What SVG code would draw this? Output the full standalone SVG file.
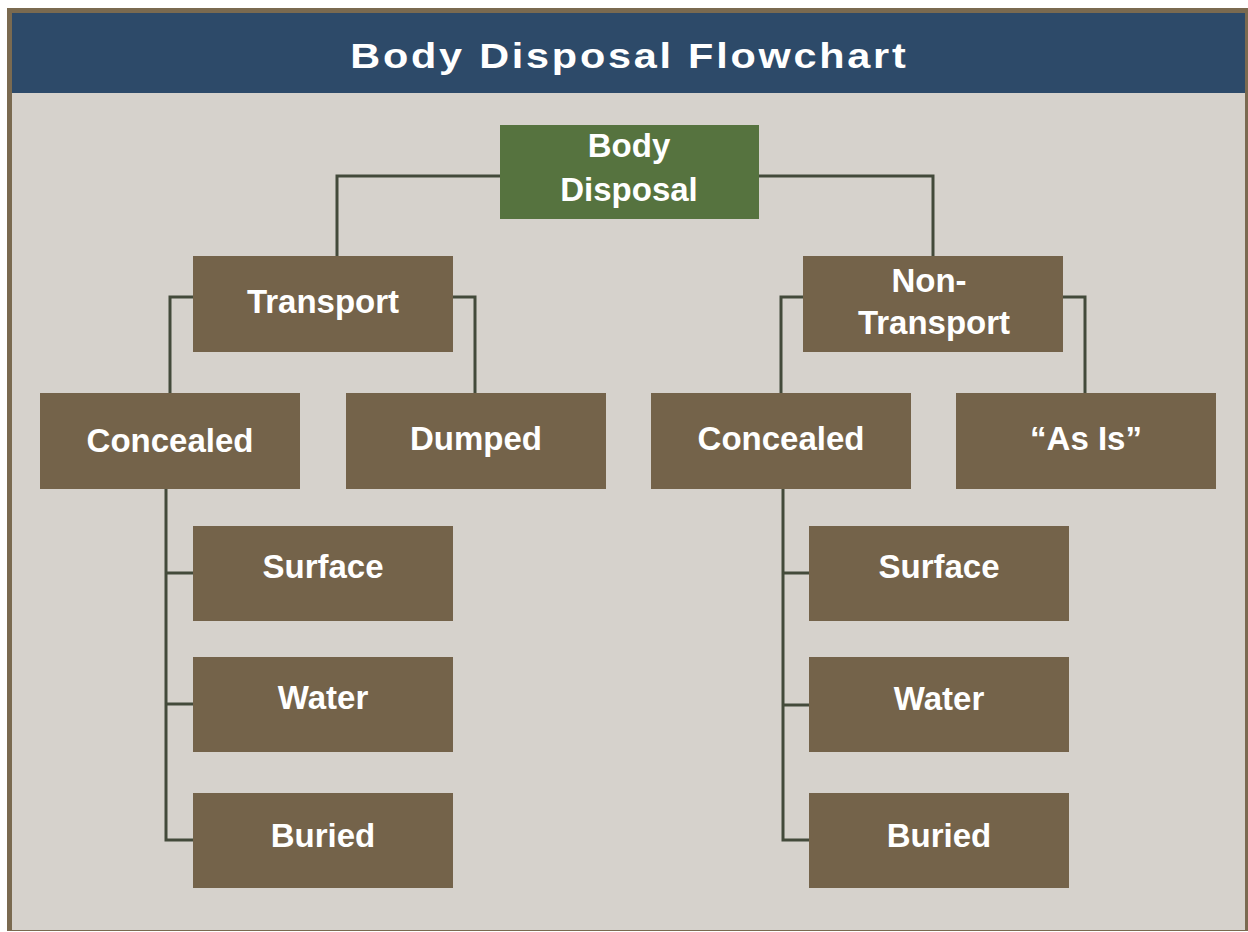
<svg xmlns="http://www.w3.org/2000/svg" width="1248" height="932" viewBox="0 0 1248 932">
<defs>
<style>
.node{fill:#74634a;}
.root{fill:#56733f;}
.lbl{font-family:"Liberation Sans",Arial,sans-serif;font-weight:bold;font-size:33px;fill:#ffffff;text-anchor:middle;}
.conn{fill:none;stroke:#434a3a;stroke-width:3;}
</style>
</defs>
<rect x="0" y="0" width="1248" height="932" fill="#ffffff"/>
<rect x="7" y="8" width="1241" height="923" fill="#7a6a50"/>
<rect x="12" y="13" width="1233" height="917" fill="#d6d2cc"/>
<rect x="12" y="13" width="1233" height="80" fill="#2d4a69"/>
<text transform="translate(628,68) scale(1.15,1)" x="0" y="0" font-family="'Liberation Sans',Arial,sans-serif" font-weight="bold" font-size="36" fill="#ffffff" text-anchor="middle" textLength="483" lengthAdjust="spacing">Body Disposal Flowchart</text>
<g id="connectors">
<polyline class="conn" points="500,176 337,176 337,256"/>
<polyline class="conn" points="759,176 933,176 933,256"/>
<polyline class="conn" points="193,297 170,297 170,393"/>
<polyline class="conn" points="452,297 475,297 475,393"/>
<polyline class="conn" points="803,297 781,297 781,393"/>
<polyline class="conn" points="1062,297 1085,297 1085,393"/>
<polyline class="conn" points="166,489 166,840 193,840"/>
<line class="conn" x1="166" y1="573" x2="193" y2="573"/>
<line class="conn" x1="166" y1="704" x2="193" y2="704"/>
<polyline class="conn" points="783,489 783,840 809,840"/>
<line class="conn" x1="783" y1="573" x2="809" y2="573"/>
<line class="conn" x1="783" y1="705" x2="809" y2="705"/>
</g>
<g id="n-body-disposal"><rect class="root" x="500" y="125" width="259" height="94"/><text class="lbl" x="629" y="157">Body</text><text class="lbl" x="629" y="201">Disposal</text></g>
<g id="n-transport"><rect class="node" x="193" y="256" width="260" height="96"/><text class="lbl" x="323" y="313">Transport</text></g>
<g id="n-non-transport"><rect class="node" x="803" y="256" width="260" height="96"/><text class="lbl" x="929" y="292">Non-</text><text class="lbl" x="934" y="334">Transport</text></g>
<g id="n-concealed-l"><rect class="node" x="40" y="393" width="260" height="96"/><text class="lbl" x="170" y="452">Concealed</text></g>
<g id="n-dumped"><rect class="node" x="346" y="393" width="260" height="96"/><text class="lbl" x="476" y="450">Dumped</text></g>
<g id="n-concealed-r"><rect class="node" x="651" y="393" width="260" height="96"/><text class="lbl" x="781" y="450">Concealed</text></g>
<g id="n-as-is"><rect class="node" x="956" y="393" width="260" height="96"/><text class="lbl" x="1086" y="450">“As Is”</text></g>
<g id="n-surface-l"><rect class="node" x="193" y="526" width="260" height="95"/><text class="lbl" x="323" y="578">Surface</text></g>
<g id="n-water-l"><rect class="node" x="193" y="657" width="260" height="95"/><text class="lbl" x="323" y="709">Water</text></g>
<g id="n-buried-l"><rect class="node" x="193" y="793" width="260" height="95"/><text class="lbl" x="323" y="847">Buried</text></g>
<g id="n-surface-r"><rect class="node" x="809" y="526" width="260" height="95"/><text class="lbl" x="939" y="578">Surface</text></g>
<g id="n-water-r"><rect class="node" x="809" y="657" width="260" height="95"/><text class="lbl" x="939" y="710">Water</text></g>
<g id="n-buried-r"><rect class="node" x="809" y="793" width="260" height="95"/><text class="lbl" x="939" y="847">Buried</text></g>
</svg>
